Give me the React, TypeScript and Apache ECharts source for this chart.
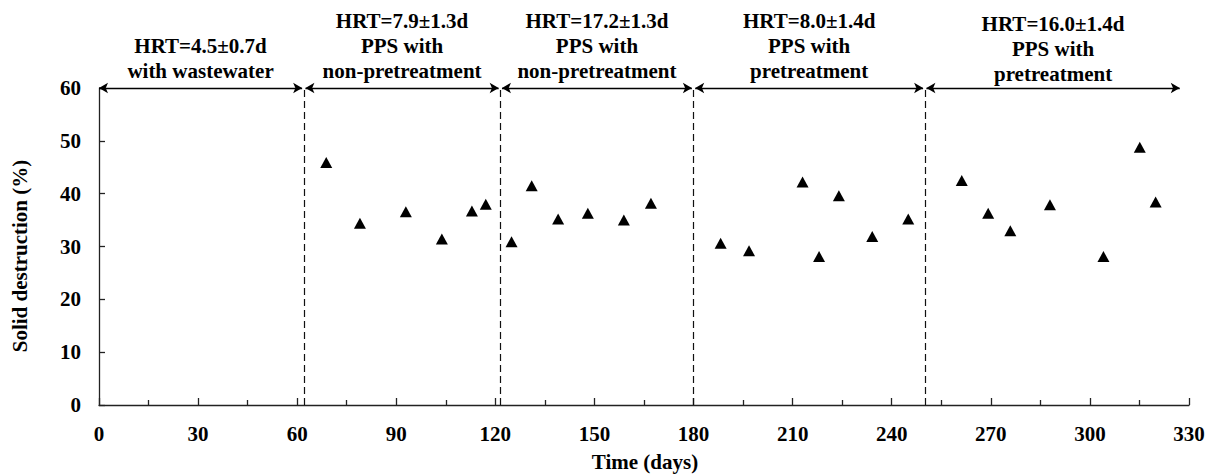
import React, { useEffect, useRef } from "react";
import * as echarts from "echarts";

// Time (days) and solid destruction (%)
const days = [68.8, 79.0, 92.9, 103.8, 112.9, 117.1, 124.9, 131.0, 139.0, 148.0, 158.9, 167.1, 188.2, 196.8, 213.0, 218.0, 224.0, 234.1, 245.0, 261.2, 269.2, 275.9, 287.9, 304.1, 315.1, 319.9];
const destruction = [45.9, 34.4, 36.6, 31.4, 36.7, 38.0, 30.9, 41.5, 35.2, 36.3, 35.0, 38.2, 30.6, 29.2, 42.2, 28.1, 39.6, 31.9, 35.2, 42.5, 36.3, 33.0, 37.9, 28.1, 48.8, 38.4];

// Phase boundaries (days) and arrow spans
const phaseBoundaries = [62, 121.5, 180, 250];
const phaseStarts = [0, 62.5, 122, 180.5, 250.5];
const phaseEnds = [61.5, 121, 179.5, 249.5, 327.2];
const phaseLabels = [
  "HRT=4.5±0.7d\nwith wastewater",
  "HRT=7.9±1.3d\nPPS with\nnon-pretreatment",
  "HRT=17.2±1.3d\nPPS with\nnon-pretreatment",
  "HRT=8.0±1.4d\nPPS with\npretreatment",
  "HRT=16.0±1.4d\nPPS with\npretreatment",
];
const labelDistances = [5, 5, 5, 5, 2];

const xMin = 0;
const xMax = 330;
const xInterval = 30;
const yMin = 0;
const yMax = 60;
const yInterval = 10;

const FONT = "'Liberation Serif', 'Times New Roman', serif";
const FS = 21;

export default function App() {
  const ref = useRef<HTMLDivElement>(null);

  useEffect(() => {
    if (!ref.current) return;
    const chart = echarts.init(ref.current, null, { renderer: "svg" });

    const dashedLines = phaseBoundaries.map((d) => [
      { coord: [d, yMin], symbol: "none" },
      { coord: [d, yMax], symbol: "none" },
    ]);

    const arrowLines = phaseStarts.map((s, i) => [
      {
        coord: [s, yMax],
        name: phaseLabels[i],
        label: {
          show: true,
          position: "middle",
          formatter: "{b}",
          distance: labelDistances[i],
          fontFamily: FONT,
          fontWeight: "bold",
          fontSize: FS,
          lineHeight: 25,
          color: "#000",
        },
      },
      { coord: [phaseEnds[i], yMax] },
    ]);

    chart.setOption({
      animation: false,
      backgroundColor: "#fff",
      grid: { left: 99, right: 24, top: 88, bottom: 70 },
      xAxis: {
        type: "value",
        min: xMin,
        max: xMax,
        interval: xInterval,
        splitLine: { show: false },
        axisLine: { show: true, lineStyle: { color: "#222", width: 1.3 } },
        axisTick: { show: true, inside: true, length: 7, lineStyle: { color: "#222", width: 1.3 } },
        minorTick: { show: true, splitNumber: 2, length: 5, lineStyle: { color: "#222", width: 1.3 } },
        axisLabel: {
          margin: 18,
          fontFamily: FONT,
          fontWeight: "bold",
          fontSize: FS,
          color: "#000",
        },
      },
      yAxis: {
        type: "value",
        min: yMin,
        max: yMax,
        interval: yInterval,
        splitLine: { show: false },
        axisLine: { show: true, lineStyle: { color: "#222", width: 1.3 } },
        axisTick: { show: true, inside: true, length: 6, lineStyle: { color: "#222", width: 1.3 } },
        axisLabel: {
          margin: 18,
          fontFamily: FONT,
          fontWeight: "bold",
          fontSize: FS,
          color: "#000",
        },
      },
      graphic: [
        {
          type: "text",
          x: 20,
          y: 256,
          rotation: Math.PI / 2,
          style: {
            text: "Solid destruction (%)",
            fontFamily: FONT,
            fontWeight: "bold",
            fontSize: FS,
            fill: "#000",
            align: "center",
            verticalAlign: "middle",
          },
        },
        {
          type: "text",
          x: 645,
          y: 462,
          style: {
            text: "Time (days)",
            fontFamily: FONT,
            fontWeight: "bold",
            fontSize: FS,
            fill: "#000",
            align: "center",
            verticalAlign: "middle",
          },
        },
      ],
      series: [
        {
          type: "scatter",
          data: days.map((d, i) => [d, destruction[i]]),
          symbol: "triangle",
          symbolSize: [12, 11],
          itemStyle: { color: "#000", opacity: 1 },
          markLine: {
            silent: true,
            animation: false,
            symbol: "none",
            label: { show: false },
            lineStyle: { color: "#111", width: 1.2, type: [7, 4] },
            data: dashedLines,
          },
        },
        {
          type: "scatter",
          data: [],
          markLine: {
            silent: true,
            animation: false,
            symbol: ["arrow", "arrow"],
            symbolSize: [8, 9],
            lineStyle: { color: "#000", width: 1.3, type: "solid" },
            data: arrowLines,
          },
        },
      ],
    });

    return () => chart.dispose();
  }, []);

  return (
    <div
      ref={ref}
      style={{ position: "absolute", left: 0, top: 0, width: 1213, height: 475 }}
    />
  );
}
